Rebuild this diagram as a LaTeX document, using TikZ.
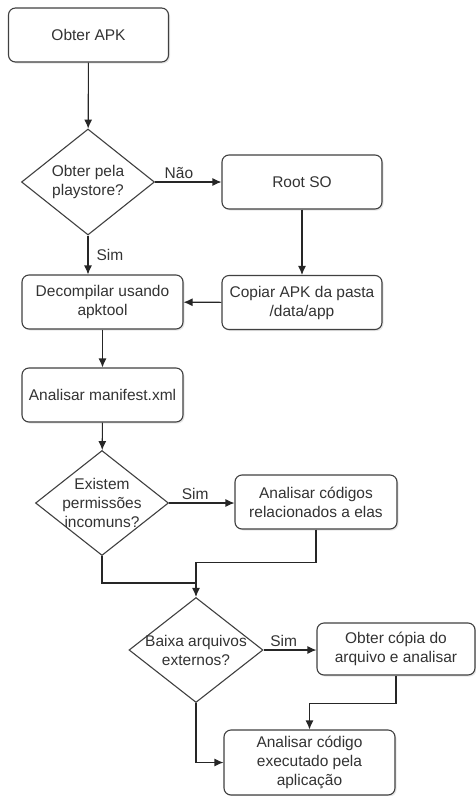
\documentclass[tikz,border=0pt]{standalone}
\usepackage{fontspec}
\setmainfont{Liberation Sans}
\usetikzlibrary{shapes.geometric,shadows,arrows.meta}
\tikzset{
  passo/.style={draw=black!75, line width=1.1pt, rounded corners=7pt, fill=white,
    align=center, text=black!80, inner sep=2pt, minimum width=160pt, minimum height=54pt,
    drop shadow={opacity=0.2, shadow xshift=1.5pt, shadow yshift=-1.5pt}},
  decisao/.style={diamond, draw=black!75, line width=1.1pt, fill=white, inner sep=0pt,
    minimum width=133pt, minimum height=106pt},
  rotulo/.style={align=center, text=black!80, inner sep=0pt},
  linha/.style={draw=black!85, line width=1.1pt},
  fluxo/.style={linha, ->},
}
\begin{document}
\begin{tikzpicture}[>={Latex[length=9pt,width=8pt]}, x=1pt, y=-1pt, font=\fontsize{15.5}{19}\selectfont]
\useasboundingbox (0,0) rectangle (476,796);

\node[passo] (apk) at (88.5,35) {Obter APK};
\node[decisao] (play) at (88,182) {};
\node[rotulo] (play-t) at (play) {Obter pela\\playstore?};
\node[passo] (root) at (302,182) {Root SO};
\node[passo] (copiar) at (302,302.5) {Copiar APK da pasta\\/data/app};
\node[passo, minimum width=161pt] (decomp) at (102.5,302) {Decompilar usando\\apktool};
\node[passo, minimum width=161pt] (manifest) at (102.5,395) {Analisar manifest.xml};
\node[decisao, minimum height=105pt] (perm) at (102,503) {};
\node[rotulo] (perm-t) at (perm) {Existem\\permissões\\incomuns?};
\node[passo, minimum width=162pt] (codigos) at (316,502) {Analisar códigos\\relacionados a elas};
\node[decisao, minimum width=134pt, minimum height=105pt] (baixa) at (196,650) {};
\node[rotulo] (baixa-t) at (baixa) {Baixa arquivos\\externos?};
\node[passo, minimum width=158pt, minimum height=52pt] (copia) at (396,649) {Obter cópia do\\arquivo e analisar};
\node[passo, minimum width=171pt, minimum height=65pt] (final) at (309.5,762.5) {Analisar código\\executado pela\\aplicação};

\coordinate (junta) at (196,583);

\draw[fluxo] (apk) -- (play);
\draw[fluxo] (play.east) -- (root.west) node[rotulo, pos=0.36, above=3pt] {Não};
\draw[fluxo] (play.south) -- (play.south |- decomp.north) node[rotulo, midway, right=8pt] {Sim};
\draw[fluxo] (root) -- (copiar);
\draw[fluxo] (copiar) -- (decomp);
\draw[fluxo] (decomp) -- (manifest);
\draw[fluxo] (manifest) -- (perm);
\draw[fluxo] (perm.east) -- (perm.east -| codigos.west) node[rotulo, pos=0.4, above=3pt] {Sim};
\draw[fluxo] (codigos.south) -- ++(0,33) -| (baixa.north);
\draw[linha] (perm.south) |- (junta);
\draw[fluxo] (baixa.east) -- (baixa.east -| copia.west) node[rotulo, pos=0.38, above=3pt] {Sim};
\draw[fluxo] (copia.south) -- ++(0,28) -| (final.north);
\draw[fluxo] (baixa.south) |- (final.west);
\end{tikzpicture}
\end{document}
